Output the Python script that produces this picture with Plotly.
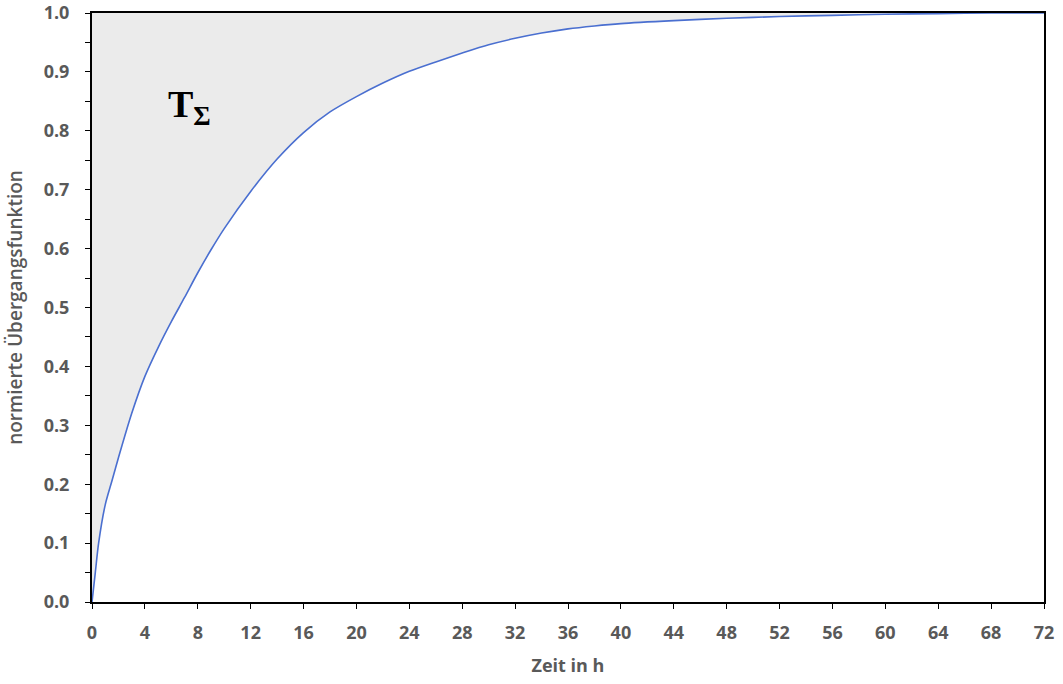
import plotly.graph_objects as go

# data
zeit_h = [0, 0.25, 0.5, 1, 1.5, 2, 3, 4, 5, 6, 7, 8, 9, 10, 12, 14, 16, 18, 20,
          22, 24, 26, 28, 30, 32, 34, 36, 38, 40, 44, 48, 52, 56, 60, 64, 68, 72]
uebergang = [0.0, 0.05, 0.10, 0.165, 0.205, 0.245, 0.32, 0.383, 0.432, 0.476, 0.517,
             0.559, 0.598, 0.634, 0.697, 0.752, 0.797, 0.832, 0.858, 0.881, 0.901,
             0.917, 0.932, 0.946, 0.957, 0.966, 0.973, 0.978, 0.982, 0.987, 0.991,
             0.994, 0.996, 0.998, 0.999, 1.0, 1.0]
obergrenze = [1.0] * len(zeit_h)
x_ticks = list(range(0, 73, 4))

grey = "#595959"
font_fam = "Open Sans"

fig = go.Figure()
fig.add_trace(go.Scatter(x=zeit_h, y=obergrenze, mode="lines",
                         line=dict(width=0, color="rgba(0,0,0,0)"),
                         hoverinfo="skip", showlegend=False))
fig.add_trace(go.Scatter(x=zeit_h, y=uebergang, mode="lines",
                         line=dict(color="#4A6FD0", width=1.6, shape="spline", smoothing=0.8),
                         fill="tonexty", fillcolor="#EBEBEB",
                         showlegend=False))

fig.add_annotation(x=7.4, y=0.84, xref="x", yref="y", showarrow=False,
                   text="<b>T<sub>Σ</sub></b>",
                   font=dict(family="Liberation Serif", size=38, color="black"))

fig.update_xaxes(range=[0, 72], tickvals=x_ticks, ticks="outside", ticklen=5,
                 tickcolor="black", tickwidth=1, showline=True, linecolor="black",
                 linewidth=2, mirror=True, showgrid=False, zeroline=False,
                 automargin=False, ticklabelstandoff=8, ticklabeloverflow="allow",
                 tickfont=dict(family=font_fam, size=18, color=grey, weight="bold"),
                 title=dict(text="<b>Zeit in h</b>", standoff=17,
                            font=dict(family=font_fam, size=18, color=grey)))
fig.update_yaxes(range=[0, 1.0], dtick=0.1, tickformat=".1f", ticks="outside",
                 ticklen=5, tickcolor="black", tickwidth=1,
                 minor=dict(dtick=0.05, ticks="outside", ticklen=5, tickcolor="black"),
                 showline=True, linecolor="black", linewidth=2, mirror=True,
                 showgrid=False, zeroline=False, automargin=False, ticklabelstandoff=12,
                 ticklabeloverflow="allow",
                 tickfont=dict(family=font_fam, size=18, color=grey, weight="bold"),
                 title=dict(text="normierte Übergangsfunktion", standoff=16,
                            font=dict(family=font_fam, size=19, color=grey, weight=600)))

fig.update_layout(width=1063, height=684, margin=dict(l=92, r=19, t=13, b=82),
                  plot_bgcolor="white", paper_bgcolor="white")

# remove the browser's default body margin so the figure sits at the page origin
fig.write_html("out.html", config={"displayModeBar": False},
               post_script="document.body.style.margin='0';")
